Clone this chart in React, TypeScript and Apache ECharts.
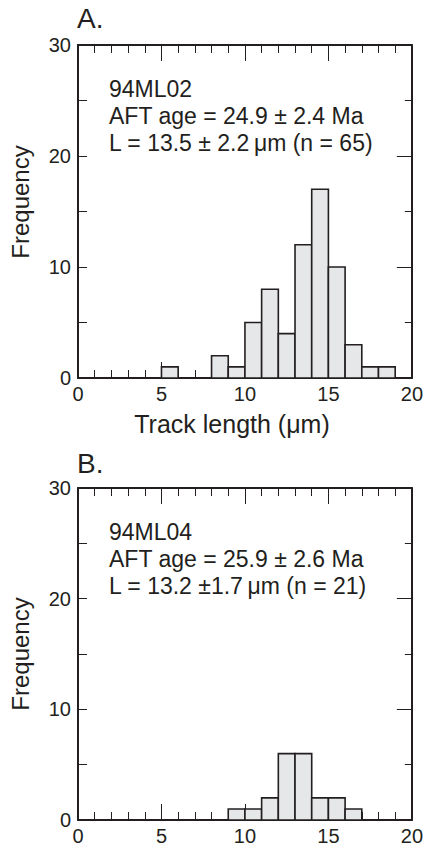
import React, { useEffect, useRef } from "react";
import * as echarts from "echarts";

// Histogram A (94ML02): bin start (µm) and frequency
const binStartsA = [5, 8, 9, 10, 11, 12, 13, 14, 15, 16, 17, 18];
const countsA = [1, 2, 1, 5, 8, 4, 12, 17, 10, 3, 1, 1];
// Histogram B (94ML04)
const binStartsB = [9, 10, 11, 12, 13, 14, 15, 16];
const countsB = [1, 1, 2, 6, 6, 2, 2, 1];
const binWidth = 1;

const panelTitles = ["A.", "B."];
const notesA = ["94ML02", "AFT age = 24.9 ± 2.4 Ma", "L = 13.5 ± 2.2\u2009μm (n = 65)"];
const notesB = ["94ML04", "AFT age = 25.9 ± 2.6 Ma", "L = 13.2 ±1.7\u2009μm (n = 21)"];
const yName = "Frequency";
const xName = "Track length (μm)";

const INK = "#231f20";
const FILL = "#e6e7e8";
const FONT = "Liberation Sans";

const GRID_LEFT = 78;
const GRID_W = 334;
const GRID_H = 333;
const GRID_TOPS = [45, 488];

export default function App() {
  const ref = useRef<HTMLDivElement>(null);

  useEffect(() => {
    if (!ref.current) return;
    const chart = echarts.init(ref.current, null, { renderer: "svg" });

    const line = { show: true, onZero: false, lineStyle: { color: INK, width: 2 } };

    const xAxes: any[] = [];
    const yAxes: any[] = [];
    GRID_TOPS.forEach((_, g) => {
      xAxes.push({
        type: "value", gridIndex: g, position: "bottom", min: 0, max: 20, interval: 5,
        axisLine: line,
        axisTick: { show: true, inside: true, length: 16, lineStyle: { color: INK, width: 1 } },
        minorTick: { show: true, splitNumber: 5, length: 8, lineStyle: { color: INK, width: 1 } },
        splitLine: { show: false },
        axisLabel: { show: true, margin: 6, color: INK, fontFamily: FONT, fontSize: 20 },
      });
      xAxes.push({
        type: "value", gridIndex: g, position: "top", min: 0, max: 20, interval: 5,
        axisLine: line,
        axisTick: { show: true, inside: true, length: 16, lineStyle: { color: INK, width: 1 } },
        minorTick: { show: true, splitNumber: 5, length: 8, lineStyle: { color: INK, width: 1 } },
        splitLine: { show: false },
        axisLabel: { show: false },
      });
      yAxes.push({
        type: "value", gridIndex: g, position: "left", min: 0, max: 30, interval: 5,
        axisLine: line,
        axisTick: { show: true, inside: true, length: 9, lineStyle: { color: INK, width: 1 } },
        splitLine: { show: false },
        axisLabel: {
          show: true, margin: 7, color: INK, fontFamily: FONT, fontSize: 20,
          formatter: (v: number) => (v % 10 === 0 ? String(v) : ""),
        },
      });
      yAxes.push({
        type: "value", gridIndex: g, position: "right", min: 0, max: 30, interval: 10,
        axisLine: line,
        axisTick: { show: true, inside: true, length: 15, lineStyle: { color: INK, width: 1 } },
        minorTick: { show: true, splitNumber: 2, length: 7, lineStyle: { color: INK, width: 1 } },
        splitLine: { show: false },
        axisLabel: { show: false },
      });
    });

    const renderBar = (params: any, api: any) => {
      const x0 = api.value(0);
      const y = api.value(1);
      const p0 = api.coord([x0, y]);
      const p1 = api.coord([x0 + binWidth, 0]);
      return {
        type: "rect",
        shape: { x: p0[0], y: p0[1], width: p1[0] - p0[0], height: p1[1] - p0[1] },
        style: { fill: FILL, stroke: INK, lineWidth: 1.6 },
      };
    };

    const dataA = binStartsA.map((b, i) => [b, countsA[i]]);
    const dataB = binStartsB.map((b, i) => [b, countsB[i]]);

    const txt = (x: number, y: number, text: string, size: number) => ({
      type: "text", x, y,
      style: { text, fill: INK, font: `${size}px "${FONT}"`, textVerticalAlign: "middle", textAlign: "left" },
    });

    const graphics: any[] = [];
    [notesA, notesB].forEach((notes, g) => {
      const top = GRID_TOPS[g];
      graphics.push(txt(GRID_LEFT - 1, top - (g === 0 ? 27 : 25), panelTitles[g], 28));
      notes.forEach((n, i) => graphics.push(txt(109, top + 44 + i * 27, n, 23)));
      graphics.push({
        type: "text", x: 20, y: g === 0 ? 202 : 654, rotation: Math.PI / 2,
        style: { text: yName, fill: INK, font: `24px "${FONT}"`, textAlign: "center", textVerticalAlign: "middle" },
      });
    });
    graphics.push({
      type: "text", x: 232, y: 424,
      style: { text: xName, fill: INK, font: `25px "${FONT}"`, textAlign: "center", textVerticalAlign: "middle" },
    });

    chart.setOption({
      animation: false,
      backgroundColor: "#ffffff",
      grid: GRID_TOPS.map((t) => ({ left: GRID_LEFT, top: t, width: GRID_W, height: GRID_H })),
      xAxis: xAxes,
      yAxis: yAxes,
      series: [
        { type: "custom", xAxisIndex: 0, yAxisIndex: 0, renderItem: renderBar, data: dataA, encode: { x: 0, y: 1 } },
        { type: "custom", xAxisIndex: 2, yAxisIndex: 2, renderItem: renderBar, data: dataB, encode: { x: 0, y: 1 } },
      ],
      graphic: graphics,
    });

    return () => chart.dispose();
  }, []);

  return (
    <div
      ref={ref}
      style={{ position: "fixed", left: 0, top: 0, width: 426, height: 846, background: "#fff" }}
    />
  );
}
